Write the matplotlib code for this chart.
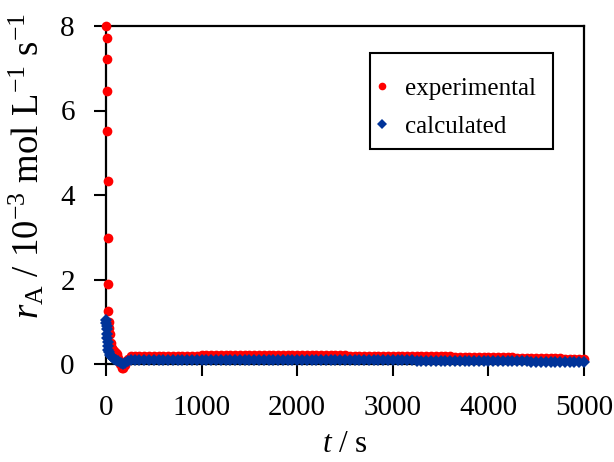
import matplotlib
matplotlib.use("Agg")
import matplotlib.pyplot as plt
from matplotlib.lines import Line2D
from matplotlib.patches import Rectangle

# ---- data ----
exp_t_early = [5, 7.5, 10, 12.5, 15, 17.5, 20, 22.5, 25, 30, 35, 40, 50, 60, 70, 80, 90,
               100, 115, 130, 140, 150, 165, 180, 195, 210, 230, 260]
exp_r_early = [8.00, 7.72, 7.21, 6.46, 5.51, 4.33, 2.98, 1.90, 1.25, 1.00, 0.85, 0.70, 0.50,
               0.38, 0.33, 0.30, 0.28, 0.27, 0.24, 0.15, 0.06, 0.00, -0.10, -0.10, -0.02,
               0.06, 0.13, 0.18]

calc_t_early = [0, 3, 6, 9, 12, 15, 18, 21, 25, 30, 40, 50, 60, 80, 100, 130, 160, 180,
                200, 230, 260]
calc_r_early = [1.04, 0.97, 0.90, 0.82, 0.72, 0.62, 0.52, 0.42, 0.33, 0.28, 0.22, 0.18,
                0.16, 0.12, 0.10, 0.07, 0.03, 0.01, 0.03, 0.08, 0.10]

late_t = list(range(300, 5001, 50))
exp_r_late = [0.19, 0.19, 0.19, 0.20, 0.20, 0.20, 0.20, 0.20, 0.20, 0.20, 0.20, 0.20, 0.20, 0.20, 0.21,
              0.21, 0.21, 0.21, 0.21, 0.21, 0.21, 0.21, 0.21, 0.21, 0.21, 0.21, 0.21, 0.21, 0.21, 0.21,
              0.21, 0.21, 0.21, 0.21, 0.21,
              0.21, 0.21, 0.21, 0.21, 0.21, 0.21, 0.21, 0.21, 0.21, 0.21, 0.20, 0.20, 0.20, 0.20, 0.20,
              0.20, 0.20, 0.20, 0.20, 0.20,
              0.20, 0.20, 0.19, 0.19, 0.19, 0.19, 0.19, 0.18, 0.18, 0.18, 0.18, 0.18, 0.17, 0.17, 0.17,
              0.17, 0.17, 0.17, 0.17, 0.17,
              0.16, 0.16, 0.16, 0.16, 0.16, 0.15, 0.15, 0.15, 0.15, 0.15, 0.14, 0.14, 0.14, 0.14, 0.14,
              0.13, 0.13, 0.13, 0.13, 0.13]
calc_r_late = [0.10, 0.10, 0.10, 0.10, 0.10, 0.10, 0.10, 0.10, 0.10, 0.10, 0.10, 0.10, 0.10, 0.10, 0.10,
               0.10, 0.10, 0.10, 0.10, 0.10, 0.10, 0.10, 0.10, 0.10, 0.10, 0.10, 0.10, 0.10, 0.10, 0.10,
               0.10, 0.10, 0.10, 0.10, 0.10,
               0.10, 0.10, 0.10, 0.10, 0.10, 0.10, 0.10, 0.10, 0.10, 0.10, 0.10, 0.10, 0.10, 0.10, 0.10,
               0.09, 0.09, 0.09, 0.09, 0.09,
               0.09, 0.09, 0.09, 0.09, 0.08, 0.08, 0.08, 0.08, 0.08, 0.08, 0.08, 0.07, 0.07, 0.07, 0.07,
               0.07, 0.07, 0.07, 0.07, 0.06,
               0.06, 0.06, 0.06, 0.06, 0.06, 0.06, 0.06, 0.06, 0.05, 0.05, 0.05, 0.05, 0.05, 0.05, 0.05,
               0.05, 0.05, 0.04, 0.04, 0.04]

exp_t = exp_t_early + late_t
exp_r = exp_r_early + exp_r_late
calc_t = calc_t_early + late_t
calc_r = calc_r_early + calc_r_late

x_ticks = [0, 1000, 2000, 3000, 4000, 5000]
y_ticks = [0, 2, 4, 6, 8]
series_labels = ["experimental", "calculated"]

# ---- style ----
plt.rcParams['font.family'] = ['Liberation Serif', 'DejaVu Serif']
plt.rcParams['mathtext.fontset'] = 'custom'
plt.rcParams['mathtext.rm'] = 'Liberation Serif'
plt.rcParams['mathtext.it'] = 'Liberation Serif:italic'

red = '#FF0000'
blue = '#003399'

fig = plt.figure(figsize=(6.14, 4.62), dpi=100)
ax = fig.add_axes([106/614, 1-364/462, (584-106)/614, (364-26)/462])

ax.plot(exp_t, exp_r, linestyle='none', marker='o', markersize=7.0, color=red,
        markeredgewidth=0, clip_on=False, zorder=3)
ax.plot(calc_t, calc_r, linestyle='none', marker='D', markersize=6.6, color=blue,
        markeredgewidth=0, clip_on=False, zorder=4)

ax.set_xlim(0, 5000)
ax.set_ylim(0, 8)
ax.set_xticks(x_ticks)
ax.set_yticks(y_ticks)
ax.tick_params(direction='out', length=8.5, width=1.5, labelsize=21, color='black')
ax.tick_params(axis='y', pad=14)
ax.tick_params(axis='x', pad=14)
for s in ax.spines.values():
    s.set_linewidth(1.6)
    s.set_color('black')

ax.set_xlabel('$t$ / s', fontsize=22.5, labelpad=6)
fig.text(27/614, 1-166/462,
         '$r_\\mathrm{A}$ / 10$^{\\mathrm{-3}}$ mol L$^{\\mathrm{-1}}$ s$^{\\mathrm{-1}}$',
         rotation=90, ha='center', va='center', fontsize=26.5)

# legend box and entries
fig.patches.append(Rectangle((370/614, 1-149/462), (553-370)/614, (149-53)/462,
                             transform=fig.transFigure, fill=False, edgecolor='black',
                             linewidth=1.5, zorder=10))
handles = [Line2D([], [], linestyle='none', marker='o', markersize=5.5, color=red, markeredgewidth=0),
           Line2D([], [], linestyle='none', marker='D', markersize=4.8, color=blue, markeredgewidth=0)]
leg = ax.legend(handles, series_labels, loc='center left',
                bbox_to_anchor=(376/614, 1-107.5/462), bbox_transform=fig.transFigure,
                fontsize=18, frameon=False,
                borderaxespad=0, borderpad=0, handletextpad=0.66, handlelength=0.5,
                labelspacing=0.63)

fig.savefig('out.png', dpi=100)
